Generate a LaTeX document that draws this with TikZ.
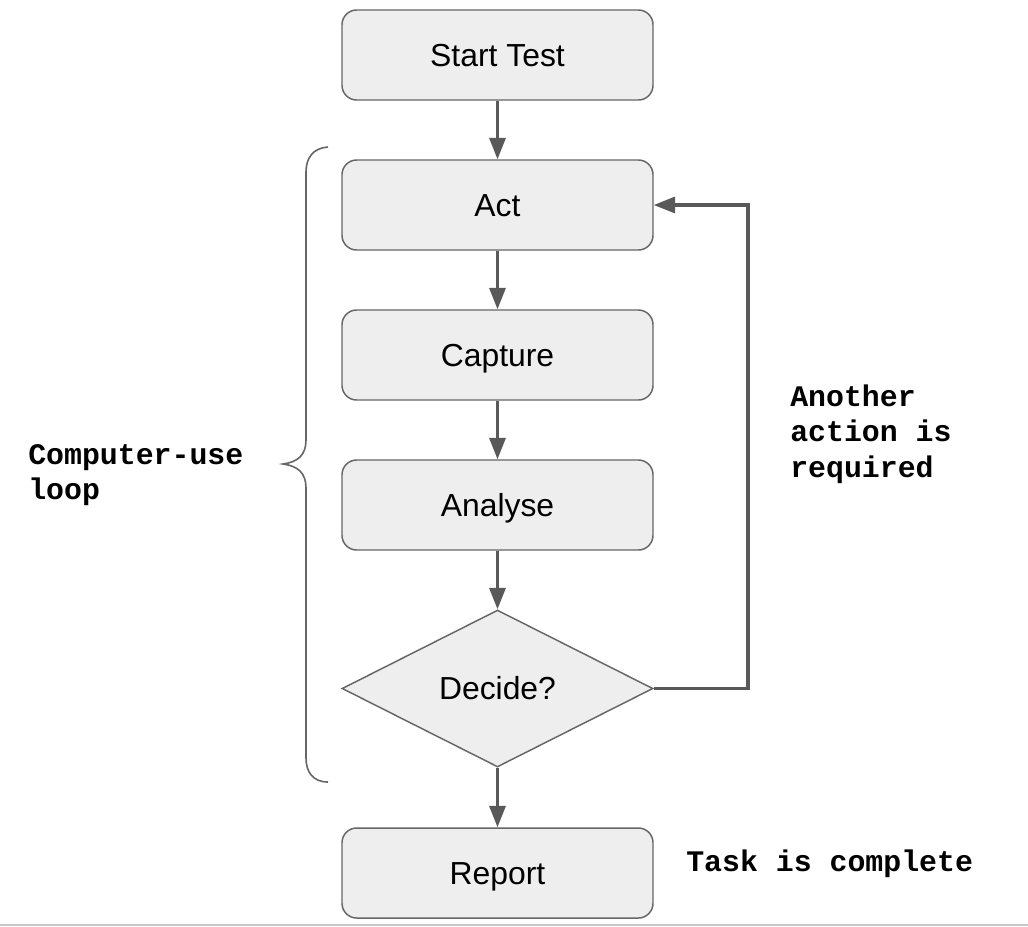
\documentclass[tikz,border=0pt]{standalone}
\usepackage{fontspec}
\setmainfont{Liberation Sans}
\newfontfamily\codefont{Liberation Mono}
\usetikzlibrary{arrows.meta,shapes.geometric}
\definecolor{boxfill}{HTML}{EEEEEE}
\definecolor{boxline}{HTML}{666666}
\definecolor{arrowc}{HTML}{595959}
\definecolor{rulec}{HTML}{C8C8C8}
\tikzset{
  stepbox/.style={draw=boxline, fill=boxfill, line width=1.1pt, rounded corners=11pt,
    minimum width=233.25pt, minimum height=67.5pt, inner sep=0pt,
    text height=17.2pt, text depth=0pt,
    font=\fontsize{23.9pt}{28pt}\selectfont},
  decisionbox/.style={draw=boxline, fill=boxfill, line width=1.1pt, diamond, aspect=1.98,
    minimum width=233.25pt, minimum height=117.75pt, inner sep=0pt,
    text height=17.2pt, text depth=0pt,
    font=\fontsize{23.9pt}{28pt}\selectfont},
  flow/.style={draw=arrowc, line width=2.3pt, -{Triangle[length=16pt,width=12pt]}},
  codelabel/.style={font=\codefont\bfseries\fontsize{22.4pt}{26.6pt}\selectfont, align=left, anchor=west, inner sep=0pt},
}
\begin{document}
\begin{tikzpicture}[x=0.75pt,y=-0.75pt]
\useasboundingbox (0,0) rectangle (1028,926);
\fill[white] (0,0) rectangle (1028,926);
\draw[rulec, line width=1.5pt] (0,924.5) -- (1028,924.5);

\node[stepbox] (start) at (497.5,55) {Start Test};
\node[stepbox] (act) at (497.5,205) {Act};
\node[stepbox] (capture) at (497.5,355) {Capture};
\node[stepbox] (analyse) at (497.5,505) {Analyse};
\node[decisionbox] (decide) at (497.5,688.5) {Decide?};
\node[stepbox] (report) at (497.5,873) {Report};

\coordinate (corner1) at (748,688.5);
\coordinate (corner2) at (748,205);

\draw[flow] (start) -- (act);
\draw[flow] (act) -- (capture);
\draw[flow] (capture) -- (analyse);
\draw[flow] (analyse) -- (decide);
\draw[flow] (decide) -- (report);
\draw[flow] (decide.east) -- (corner1) -- (corner2) -- (act.east);

% brace
\draw[boxline, line width=1.2pt] (328,147) .. controls (313,148) and (306,158) .. (306,172)
  -- (306,440) .. controls (306,455) and (298,462) .. (283,464)
  .. controls (298,466) and (306,473) .. (306,488)
  -- (306,758) .. controls (306,772) and (313,782) .. (328,782);

\node[codelabel] (looplabel) at (28,475) {Computer-use\\loop};
\node[codelabel] (anotherlabel) at (790,434) {Another\\action is\\required};
\node[codelabel] (completelabel) at (686,864) {Task is complete};
\end{tikzpicture}
\end{document}
